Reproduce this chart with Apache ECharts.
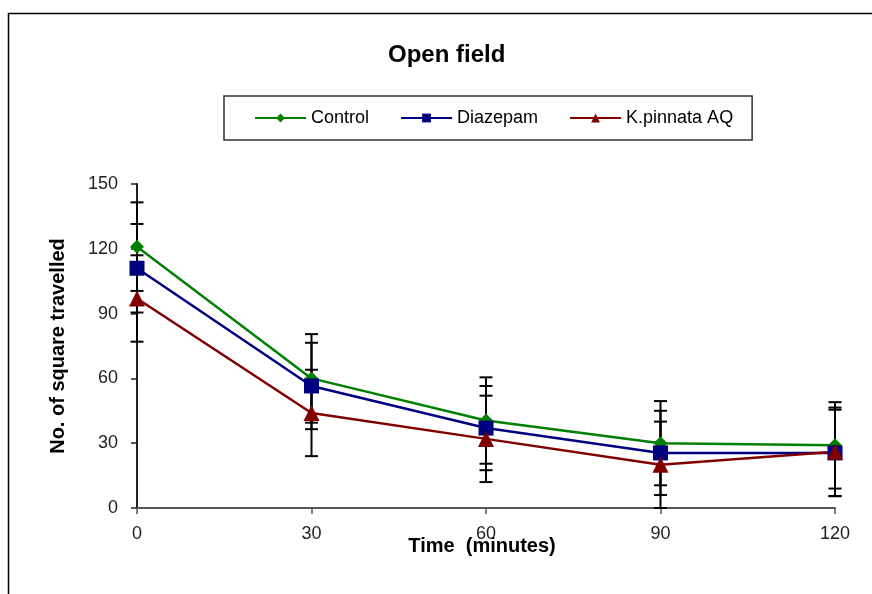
<!DOCTYPE html>
<html>
<head>
<meta charset="utf-8">
<script src="https://cdn.jsdelivr.net/npm/echarts@6/dist/echarts.min.js"></script>
<style>
  html, body { margin: 0; padding: 0; background: #fff; }
  #chart { width: 872px; height: 594px; }
</style>
</head>
<body>
<div id="chart"></div>
<script>
// time points (minutes)
const times = [0, 30, 60, 90, 120];
const yTicks = [0, 30, 60, 90, 120, 150];

// mean number of squares travelled
const control = [121, 60, 40.5, 30, 29];
const diazepam = [111, 56.5, 37, 25.5, 25.5];
const kpinnata = [97, 44, 32, 20, 26];

// error (+/-) values
const controlErr = [20.5, 20.5, 20, 19.5, 20];
const diazepamErr = [20.5, 20, 19.5, 19.5, 20];
const kpinnataErr = [20, 20, 20, 20, 20.5];

let chart = echarts.init(document.getElementById('chart'), null, { renderer: 'canvas' });

function pairs(vals) {
    return times.map((t, i) => [t, vals[i]]);
}
function errData(vals, errs) {
    return times.map((t, i) => [t, vals[i] - errs[i], vals[i] + errs[i]]);
}

function errorBars(name, vals, errs) {
    return {
        name: name + ' err',
        type: 'custom',
        z: 1,
        silent: true,
        data: errData(vals, errs),
        encode: { x: 0, y: [1, 2] },
        renderItem: (params, api) => {
            const lo = api.coord([api.value(0), api.value(1)]);
            const hi = api.coord([api.value(0), api.value(2)]);
            const w = 6.5;
            const style = { stroke: '#000', lineWidth: 2 };
            return {
                type: 'group',
                children: [
                    { type: 'line', shape: { x1: lo[0], y1: lo[1], x2: hi[0], y2: hi[1] }, style },
                    { type: 'line', shape: { x1: lo[0] - w, y1: lo[1], x2: lo[0] + w, y2: lo[1] }, style },
                    { type: 'line', shape: { x1: hi[0] - w, y1: hi[1], x2: hi[0] + w, y2: hi[1] }, style }
                ]
            };
        }
    };
}

function lineSeries(name, vals, color, symbol, size) {
    return {
        name,
        type: 'line',
        z: 3,
        data: pairs(vals),
        symbol,
        symbolSize: size,
        showAllSymbol: true,
        color,
        lineStyle: { color, width: 2.5 },
        itemStyle: { color, borderWidth: 0 }
    };
}

chart.setOption({
    animation: false,
    backgroundColor: '#fff',
    textStyle: { fontFamily: 'Liberation Sans, Arial, sans-serif' },
    graphic: [{
        type: 'rect',
        left: 6,
        top: 11,
        shape: { width: 900, height: 700 },
        style: { fill: 'none', stroke: '#000', lineWidth: 1.5 },
        z: -1
    }],
    title: {
        text: 'Open field',
        left: 383,
        top: 38,
        textStyle: { fontSize: 24, fontWeight: 'bold', color: '#000' }
    },
    legend: {
        left: 224,
        top: 96,
        padding: [13, 19, 13, 30],
        itemGap: 31,
        itemWidth: 51,
        itemHeight: 11,
        borderColor: '#333',
        borderWidth: 1.5,
        textStyle: { fontSize: 18, color: '#000' },
        data: ['Control', 'Diazepam', 'K.pinnata AQ']
    },
    grid: {
        left: 137,
        right: 37,
        top: 184,
        bottom: 86,
        containLabel: false
    },
    xAxis: {
        type: 'value',
        min: 0,
        max: 120,
        interval: 30,
        name: 'Time  (minutes)',
        nameLocation: 'middle',
        nameGap: 28,
        nameMoveOverlap: false,
        nameTextStyle: { fontSize: 20, fontWeight: 'bold', color: '#000', padding: [0, 8, 0, 0] },
        axisLine: { lineStyle: { color: '#555', width: 2 } },
        axisTick: { show: true, length: 6, lineStyle: { color: '#555', width: 1.5 } },
        axisLabel: { fontSize: 18, color: '#222', margin: 17 },
        splitLine: { show: false }
    },
    yAxis: {
        type: 'value',
        min: 0,
        max: 150,
        interval: 30,
        name: 'No. of square travelled',
        nameLocation: 'middle',
        nameGap: 69,
        nameMoveOverlap: false,
        nameTextStyle: { fontSize: 20, fontWeight: 'bold', color: '#000' },
        axisLine: { show: true, lineStyle: { color: '#222', width: 2 } },
        axisTick: { show: true, length: 6, lineStyle: { color: '#222', width: 1.5 } },
        axisLabel: {
            fontSize: 18,
            color: '#222',
            margin: 19,
            formatter: v => yTicks.includes(v) ? String(v) : ''
        },
        splitLine: { show: false }
    },
    series: [
        errorBars('Control', control, controlErr),
        errorBars('Diazepam', diazepam, diazepamErr),
        errorBars('K.pinnata AQ', kpinnata, kpinnataErr),
        lineSeries('Control', control, '#008000', 'diamond', 14),
        lineSeries('Diazepam', diazepam, '#000080', 'rect', 15),
        lineSeries('K.pinnata AQ', kpinnata, '#800000', 'triangle', 16)
    ]
});
</script>
</body>
</html>
